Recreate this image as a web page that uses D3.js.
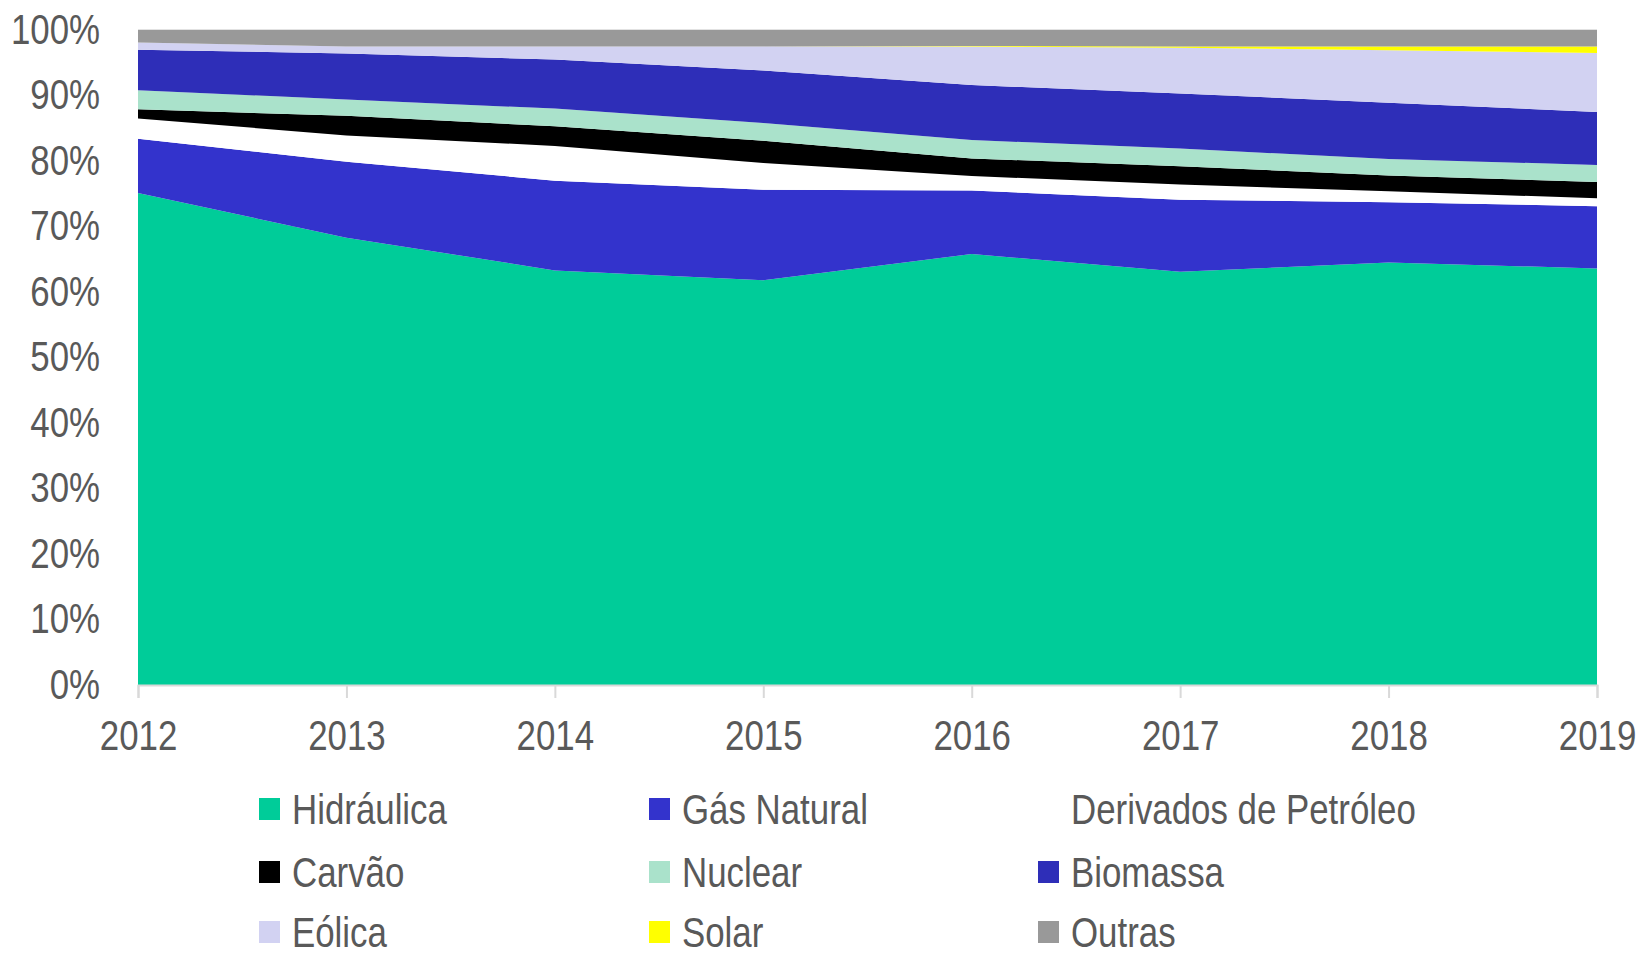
<!DOCTYPE html>
<html><head><meta charset="utf-8">
<script src="https://cdn.jsdelivr.net/npm/d3@7"></script>
<style>
html,body{margin:0;padding:0;background:#fff;}
text{font-family:"Liberation Sans",Arial,sans-serif;fill:#595959;}
</style></head>
<body>
<svg id="chart" width="1639" height="956"></svg>
<script>
const years = ["2012","2013","2014","2015","2016","2017","2018","2019"];
const seriesNames = ["Hidráulica","Gás Natural","Derivados de Petróleo","Carvão","Nuclear","Biomassa","Eólica","Solar","Outras"];
const seriesColors = ["#00CC99","#3333CC","#FFFFFF","#000000","#AAE2CB","#2E2EB8","#D2D2F2","#FFFF00","#999999"];
const hidraulica = [75.1, 68.3, 63.3, 61.8, 65.8, 63.1, 64.5, 63.6];
const gasNatural = [8.3, 11.6, 13.7, 13.8, 9.7, 11.0, 9.2, 9.5];
const derivados  = [3.1, 4.0, 5.3, 4.1, 2.2, 2.3, 1.7, 1.2];
const carvao     = [1.4, 3.0, 3.0, 3.4, 2.7, 2.8, 2.4, 2.5];
const nuclear    = [2.9, 2.5, 2.7, 2.7, 2.8, 2.7, 2.5, 2.6];
const biomassa   = [6.2, 7.0, 7.5, 8.0, 8.4, 8.4, 8.6, 8.1];
const eolica     = [1.1, 1.1, 2.0, 3.7, 5.9, 7.0, 8.0, 9.0];
const solar      = [0.0, 0.0, 0.0, 0.0, 0.05, 0.2, 0.6, 1.0];
const outras     = [1.9, 2.5, 2.5, 2.5, 2.45, 2.5, 2.5, 2.5];
const yTicks = [0,10,20,30,40,50,60,70,80,90,100];

const seriesValues = [hidraulica, gasNatural, derivados, carvao, nuclear, biomassa, eolica, solar, outras];
const rows = years.map((yr,i)=>{
  const r = {year: yr};
  seriesNames.forEach((n,k)=>{ r[n] = seriesValues[k][i]; });
  return r;
});

// condense text horizontally to mimic a narrow font
const SX = 0.83;
function narrow(sel){
  sel.each(function(){
    const t = d3.select(this);
    const x0 = +t.attr("x") || 0;
    t.attr("transform", `translate(${x0*(1-SX)},0) scale(${SX},1)`);
  });
}

const svg = d3.select("#chart");
const x = d3.scalePoint().domain(years).range([138, 1597]);
const y = d3.scaleLinear().domain([0,100]).range([685, 30]);

// gridlines (under areas)
svg.append("g").selectAll("line").data(yTicks).join("line")
  .attr("x1",138).attr("x2",1597)
  .attr("y1",d=>y(d)).attr("y2",d=>y(d))
  .attr("stroke","#D9D9D9").attr("stroke-width",1.5);

const stack = d3.stack().keys(seriesNames).offset(d3.stackOffsetExpand);
const layers = stack(rows);
const yFrac = d3.scaleLinear().domain([0,1]).range([685,30]);
const area = d3.area()
  .x(d=>x(d.data.year))
  .y0(d=>yFrac(d[0]))
  .y1(d=>yFrac(d[1]));

svg.append("g").selectAll("path").data(layers).join("path")
  .attr("d",area)
  .attr("fill",(d,i)=>seriesColors[i]);

// x axis
const xAxis = svg.append("g").attr("transform","translate(0,685)")
  .call(d3.axisBottom(x).tickSize(13).tickPadding(22));
xAxis.select(".domain").attr("stroke","#D9D9D9").attr("stroke-width",2);
xAxis.selectAll(".tick line").attr("stroke","#D9D9D9").attr("stroke-width",2);
xAxis.selectAll("text").attr("font-size",42).attr("fill","#595959")
  .style("font-family",'"Liberation Sans",Arial,sans-serif').call(narrow);

// y axis labels
const yAxis = svg.append("g").attr("transform","translate(138,0)")
  .call(d3.axisLeft(y).tickValues(yTicks).tickFormat(d=>d+"%").tickSize(0).tickPadding(38));
yAxis.select(".domain").remove();
yAxis.selectAll("text").attr("font-size",42).attr("fill","#595959")
  .style("font-family",'"Liberation Sans",Arial,sans-serif').call(narrow);

// legend
const colX = [259, 649, 1038];
const rowY = [809, 872, 932];
const leg = svg.append("g").selectAll("g").data(seriesNames).join("g")
  .attr("transform",(d,i)=>`translate(${colX[i%3]},${rowY[Math.floor(i/3)]})`);
leg.append("rect").attr("x",0).attr("y",-11).attr("width",21).attr("height",22)
  .attr("fill",(d,i)=>seriesColors[i]);
leg.append("text").attr("x",33).attr("y",0).attr("dy","0.36em")
  .attr("font-size",42).text(d=>d).call(narrow);
</script>
</body></html>
